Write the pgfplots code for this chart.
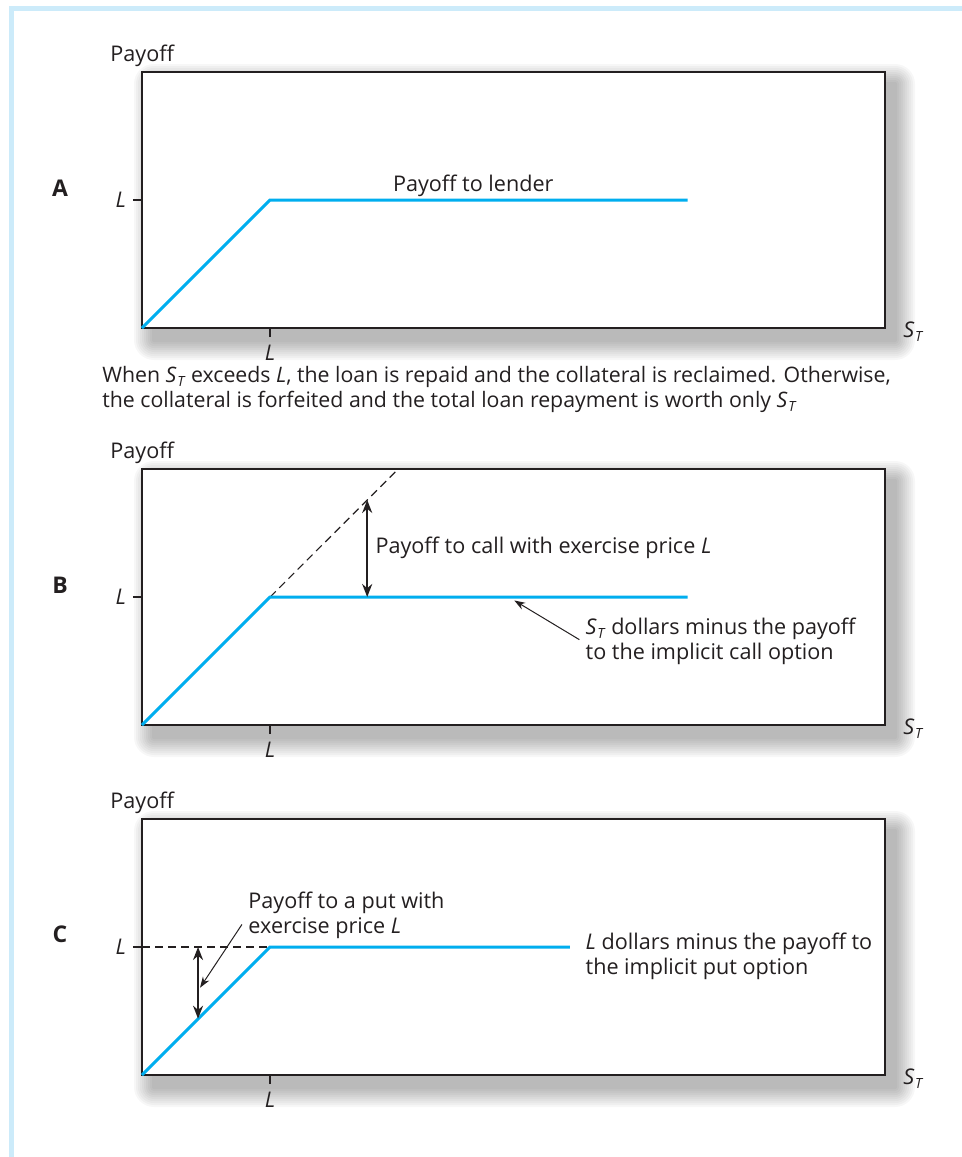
\documentclass[border=0pt]{standalone}
\usepackage{fontspec}
\setmainfont{Open Sans}
\usepackage{pgfplots}
\pgfplotsset{compat=1.18}
\usetikzlibrary{arrows.meta}

\definecolor{payblue}{RGB}{0,174,239}
\definecolor{ink}{RGB}{35,31,32}
\definecolor{frameblue}{RGB}{204,235,250}

\newcommand{\ST}{\textit{S}\kern0.3pt\raisebox{-0.35ex}{\fontsize{7}{7}\selectfont\textit{T}}}
\newcommand{\boxshadow}[4]{%
  \foreach \r in {1,...,10}{%
    \fill[black, fill opacity=0.03, rounded corners=\r pt]
      ({#1+6-\r},{#2-6-\r}) rectangle ({#3+5+\r},{#4-6+\r});
  }%
}

\pgfplotsset{
  panel/.style={
    scale only axis, width=371.5pt, height=128pt,
    xmin=0, xmax=5.8, ymin=0, ymax=2,
    xtick={1}, ytick={1}, xticklabels={L}, yticklabels={L},
    tick pos=left, tick align=outside, major tick length=4.5pt,
    tick style={line width=1pt, color=ink},
    axis line style={line width=1pt, color=ink},
    tick label style={font=\fontsize{10.8}{12}\selectfont\itshape, text=ink},
    xticklabel style={inner sep=0pt, yshift=-3.8pt},
    axis background/.style={fill=white},
    clip=false,
  },
  pay/.style={payblue, line width=1.5pt, no marks},
  guide/.style={ink, line width=0.6pt, dash pattern=on 4pt off 2.5pt, no marks},
}
\tikzset{
  dbl/.style={ink, line width=1pt, {Stealth[length=6.5pt,width=5pt]}-{Stealth[length=6.5pt,width=5pt]}},
  thin/.style={ink, line width=0.5pt, -{Stealth[length=5.5pt,width=3.8pt]}},
  lbl/.style={text=ink, font=\fontsize{10.8}{12.5}\selectfont, align=left, inner sep=0pt},
  panellbl/.style={text=ink, font=\fontsize{11.5}{12}\selectfont\bfseries, inner sep=0pt},
}

\begin{document}
\begin{tikzpicture}[x=1pt, y=1pt]
\useasboundingbox (0,0) rectangle (481,-578.5);
\fill[frameblue] (4.5,-3) rectangle (481,-5.5);
\fill[frameblue] (4.5,-3) rectangle (7,-578.5);

\boxshadow{71}{-164}{442.5}{-36}
\boxshadow{71}{-362.5}{442.5}{-234.5}
\boxshadow{71}{-537.5}{442.5}{-409.5}

% A
\begin{axis}[panel, at={(71pt,-164pt)}, anchor=south west]
\addplot[pay] coordinates {(0,0) (1,1) (4.26,1)};
\node[lbl, anchor=west] at (axis cs:-0.25,2.125) {Payoff};
\node[panellbl] at (axis cs:-0.64,1.09) {A};
\node[lbl] at (axis cs:2.586,1.11) {Payoff to lender};
\node[lbl, anchor=west] at (axis cs:5.94,-0.03) {\ST};
\node[lbl, anchor=west, font=\fontsize{10.65}{12.5}\selectfont] at (axis cs:-0.3125,-0.385) {When \ST{} exceeds \textit{L}, the loan is repaid and the collateral is reclaimed. Otherwise,};
\node[lbl, anchor=west, font=\fontsize{10.65}{12.5}\selectfont] at (axis cs:-0.3125,-0.58) {the collateral is forfeited and the total loan repayment is worth only \ST};
\end{axis}

% B
\begin{axis}[panel, at={(71pt,-362.5pt)}, anchor=south west]
\addplot[guide] coordinates {(1,1) (2,2)};
\addplot[pay] coordinates {(0,0) (1,1) (4.26,1)};
\draw[dbl] (axis cs:1.758,1) -- (axis cs:1.758,1.758);
\draw[thin] (axis cs:3.414,0.667) -- (axis cs:2.906,0.973);
\node[lbl, anchor=west] at (axis cs:-0.25,2.125) {Payoff};
\node[panellbl] at (axis cs:-0.64,1.09) {B};
\node[lbl, anchor=west] at (axis cs:1.82,1.388) {Payoff to call with exercise price \textit{L}};
\node[lbl, anchor=north west] at (axis cs:3.46,0.84) {\ST{} dollars minus the payoff\\to the implicit call option};
\node[lbl, anchor=west] at (axis cs:5.94,-0.03) {\ST};
\end{axis}

% C
\begin{axis}[panel, at={(71pt,-537.5pt)}, anchor=south west]
\addplot[guide] coordinates {(0,1) (1,1)};
\addplot[pay] coordinates {(0,0) (1,1) (3.34,1)};
\draw[dbl] (axis cs:0.4375,1) -- (axis cs:0.4375,0.44);
\draw[thin] (axis cs:0.78,1.176) -- (axis cs:0.453,0.682);
\node[lbl, anchor=west] at (axis cs:-0.25,2.125) {Payoff};
\node[panellbl] at (axis cs:-0.64,1.10) {C};
\node[lbl, anchor=north west] at (axis cs:0.828,1.43) {Payoff to a put with\\exercise price \textit{L}};
\node[lbl, anchor=north west] at (axis cs:3.46,1.115) {\textit{L} dollars minus the payoff to\\the implicit put option};
\node[lbl, anchor=west] at (axis cs:5.94,-0.03) {\ST};
\end{axis}
\end{tikzpicture}
\end{document}
